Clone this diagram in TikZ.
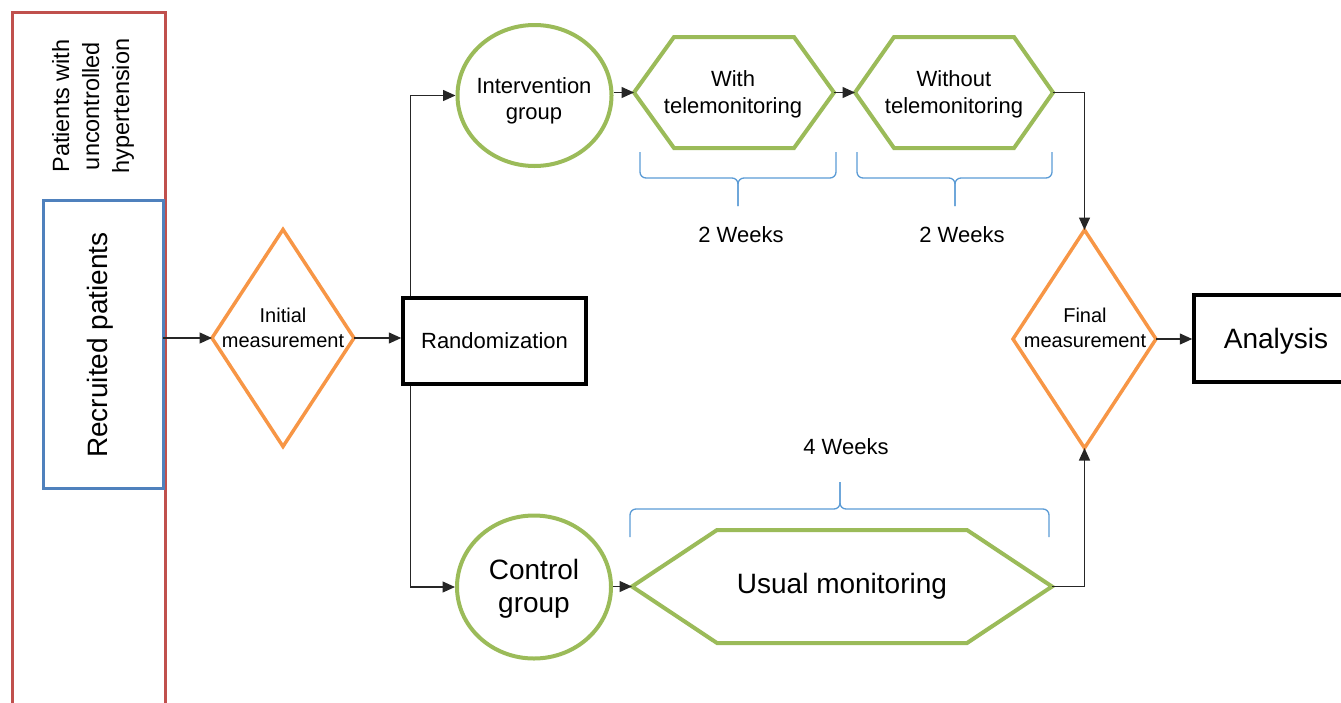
\documentclass[tikz,border=0pt]{standalone}
\usepackage{fontspec}
\setmainfont{Liberation Sans}
\usetikzlibrary{arrows.meta,shapes.geometric,calc}
\definecolor{cred}{HTML}{C0504D}
\definecolor{cblue}{HTML}{4F81BD}
\definecolor{cgreen}{HTML}{9BBB59}
\definecolor{corange}{HTML}{F79646}
\definecolor{cbrace}{HTML}{5B9BD5}
\begin{document}
\begin{tikzpicture}[x=1pt,y=-1pt,
  conn/.style={line width=1.4pt, draw=black!85},
  arr/.style={conn,-{Triangle[length=12.5pt,width=11pt]}},
  lbl/.style={inner sep=0pt, align=center, text=black},
  f20/.style={font=\fontsize{20}{25}\selectfont},
  f22/.style={font=\fontsize{22}{26}\selectfont},
  f28/.style={font=\fontsize{28}{33}\selectfont},
  shapebox/.style={draw=none, inner sep=0pt, outer sep=0pt},
  diamline/.style={draw=corange, line width=3.5pt, line join=miter},
  hexline/.style={draw=cgreen, line width=4pt, line join=miter},
  ell/.style={ellipse, draw=cgreen, line width=4pt, inner sep=0pt},
  blackbox/.style={draw=black, line width=3.5pt, inner sep=0pt},
  brc/.style={draw=cbrace, line width=1.3pt, rounded corners=6pt}
]
\useasboundingbox (0,0) rectangle (1341,702);

% outer population frame
\draw[draw=cred, line width=3pt] (12,12) rectangle (165,730);
\node[lbl, rotate=90, font=\fontsize{23.5}{30}\selectfont] (pop) at (93,106) {Patients with\\uncontrolled\\hypertension};

% recruited patients
\node[shapebox, draw=cblue, line width=3pt, minimum width=120pt, minimum height=288pt] (rp) at (103,344) {};
\node[lbl, f28, rotate=90] (rptxt) at (100,345) {Recruited patients};

% initial measurement
\node[shapebox, minimum width=142pt, minimum height=217pt] (im) at (283,338) {};
\draw[diamline] (im.north) -- (im.east) -- (im.south) -- (im.west) -- cycle;
\node[lbl, f20] (imtxt) at (283,328) {Initial\\measurement};

% randomization
\node[blackbox, minimum width=183pt, minimum height=86pt, f22] (rand) at (494.5,341) {Randomization};

% intervention group
\node[ell, minimum width=154pt, minimum height=141pt] (ig) at (534.5,95.5) {};
\node[lbl, f22] (igtxt) at (534,101) {Intervention\\group};

% with telemonitoring
\node[shapebox, minimum width=200pt, minimum height=111pt] (h1) at (734,92.5) {};
\draw[hexline] (h1.west) -- ([xshift=40pt]h1.north west) -- ([xshift=-40pt]h1.north east) -- (h1.east) -- ([xshift=-40pt]h1.south east) -- ([xshift=40pt]h1.south west) -- cycle;
\node[lbl, font=\fontsize{22}{27}\selectfont] (h1txt) at (733,94) {With\\telemonitoring};

% without telemonitoring
\node[shapebox, minimum width=198pt, minimum height=111pt] (h2) at (954,92.5) {};
\draw[hexline] (h2.west) -- ([xshift=39pt]h2.north west) -- ([xshift=-39pt]h2.north east) -- (h2.east) -- ([xshift=-39pt]h2.south east) -- ([xshift=39pt]h2.south west) -- cycle;
\node[lbl, font=\fontsize{22}{27}\selectfont] (h2txt) at (954,94) {Without\\telemonitoring};

% control group
\node[ell, minimum width=154pt, minimum height=143pt] (cg) at (534,587) {};
\node[lbl, f28] (cgtxt) at (534,589) {Control\\group};

% usual monitoring
\node[shapebox, minimum width=420pt, minimum height=113pt, f28] (um) at (842,586.5) {Usual monitoring};
\draw[hexline] (um.west) -- ([xshift=85pt]um.north west) -- ([xshift=-85pt]um.north east) -- (um.east) -- ([xshift=-85pt]um.south east) -- ([xshift=85pt]um.south west) -- cycle;

% final measurement
\node[shapebox, minimum width=143pt, minimum height=218pt] (fm) at (1084.5,339) {};
\draw[diamline] (fm.north) -- (fm.east) -- (fm.south) -- (fm.west) -- cycle;
\node[lbl, f20] (fmtxt) at (1085,328) {Final\\measurement};

% analysis
\node[blackbox, minimum width=166pt, minimum height=87pt] (an) at (1277,338.5) {};
\node[lbl, f28] (antxt) at (1276,341) {Analysis};

% braces
\draw[brc] (640,152) -- (640,178) -- (738,178) -- (738,206);
\draw[brc] (836,152) -- (836,178) -- (738,178) -- (738,206);
\draw[brc] (857,152) -- (857,178) -- (955,178) -- (955,206);
\draw[brc] (1052,152) -- (1052,178) -- (955,178) -- (955,206);
\draw[brc] (630,537) -- (630,509) -- (840,509) -- (840,482);
\draw[brc] (1049,537) -- (1049,509) -- (840,509) -- (840,482);
\node[lbl, f22] (w1) at (741,235) {2 Weeks};
\node[lbl, f22] (w2) at (962,235) {2 Weeks};
\node[lbl, f22] (w3) at (846,447) {4 Weeks};

% connectors
\draw[arr] (rp.east |- im.west) -- (im.west);
\draw[arr] (im.east) -- (im.east -| rand.west);
\draw[arr] ([xshift=9pt]rand.north west) |- (ig.west);
\draw[arr] ([xshift=9pt]rand.south west) |- (cg.west);
\draw[arr] (ig.east |- h1.west) -- (h1.west);
\draw[arr] (h1.east) -- (h2.west);
\draw[arr] (h2.east) -| (fm.north);
\draw[arr] (cg.east |- um.west) -- (um.west);
\draw[arr] (um.east) -| (fm.south);
\draw[arr] (fm.east) -- (fm.east -| an.west);
\end{tikzpicture}
\end{document}
